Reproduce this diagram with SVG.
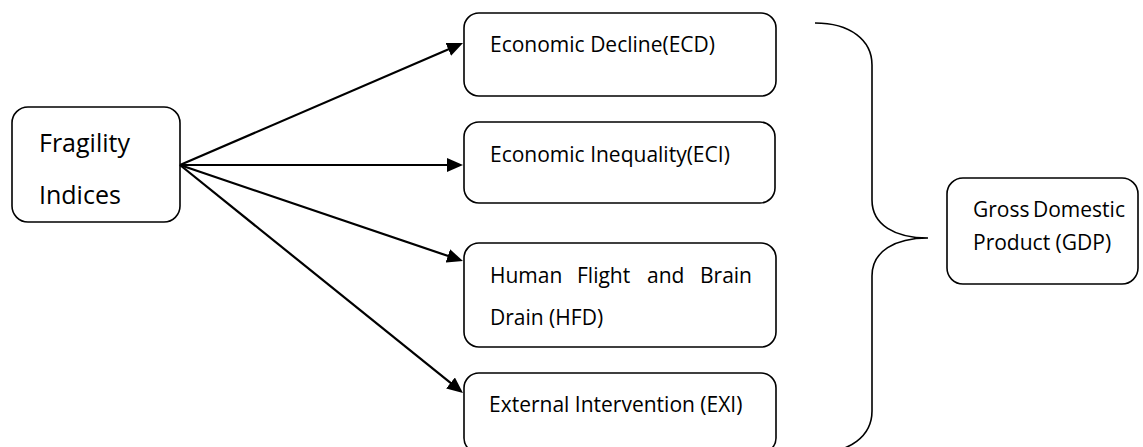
<svg xmlns="http://www.w3.org/2000/svg" width="1143" height="447" viewBox="0 0 1143 447">
<style>
.box{fill:#fff;stroke:#000;stroke-width:1.6}
.t{font-family:"Open Sans","Noto Sans",sans-serif;font-size:21px;fill:#000}
.big{font-size:25px}
.conn{stroke:#000;stroke-width:2.2;fill:none}
.brace{stroke:#000;stroke-width:1.6;fill:none}
</style>
<defs>
<marker id="ah" markerUnits="userSpaceOnUse" markerWidth="17" markerHeight="14" refX="6" refY="7" orient="auto">
<path d="M0,0 L16,7 L0,14 z" fill="#000"/>
</marker>
</defs>
<rect width="1143" height="447" fill="#fff"/>
<g id="fragility">
<rect class="box" x="12" y="107" width="168" height="115" rx="16"/>
<text class="t big" x="39" y="152">Fragility</text>
<text class="t big" x="39" y="204">Indices</text>
</g>
<g id="ecd">
<rect class="box" x="464" y="13" width="312" height="83" rx="15"/>
<text class="t" x="490" y="52">Economic Decline(ECD)</text>
</g>
<g id="eci">
<rect class="box" x="464" y="122" width="311" height="81" rx="15"/>
<text class="t" x="490" y="162">Economic Inequality(ECI)</text>
</g>
<g id="hfd">
<rect class="box" x="464" y="243" width="312" height="104" rx="15"/>
<text class="t" y="283"><tspan x="490">Human</tspan><tspan x="577">Flight</tspan><tspan x="647">and</tspan><tspan x="700">Brain</tspan></text>
<text class="t" x="490" y="325">Drain (HFD)</text>
</g>
<g id="exi">
<rect class="box" x="464" y="373" width="312" height="80" rx="15"/>
<text class="t" x="489" y="412">External Intervention (EXI)</text>
</g>
<g id="gdp">
<rect class="box" x="947" y="178" width="191" height="106" rx="16"/>
<text class="t" y="217"><tspan x="973">Gross</tspan><tspan x="1033">Domestic</tspan></text>
<text class="t" x="973" y="250">Product (GDP)</text>
</g>
<g id="connectors">
<line class="conn" x1="180" y1="165" x2="453.8" y2="47" marker-end="url(#ah)"/>
<line class="conn" x1="180" y1="165" x2="453" y2="165" marker-end="url(#ah)"/>
<line class="conn" x1="180" y1="165" x2="453.5" y2="257.8" marker-end="url(#ah)"/>
<line class="conn" x1="180" y1="165" x2="455.2" y2="386.7" marker-end="url(#ah)"/>
<path id="brace" class="brace" d="M815,23 C850,23 872,40 872,65 L872,200 C872,225 895,238 928,238 C895,238 872,251 872,276 L872,411 C872,436 850,453 815,453"/>
</g>
</svg>
